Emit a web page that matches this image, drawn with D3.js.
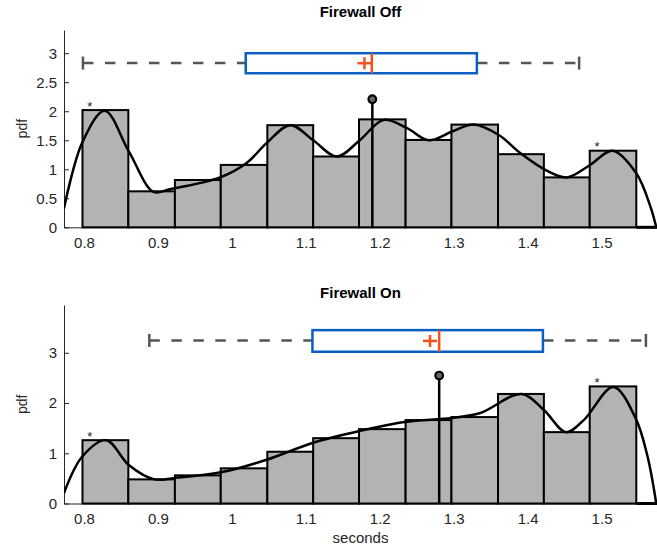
<!DOCTYPE html>
<html>
<head>
<meta charset="utf-8">
<script src="https://cdn.jsdelivr.net/npm/d3@7"></script>
<style>
  body { margin: 0; background: #fff; }
  text { font-family: "Liberation Sans", Arial, sans-serif; fill: #262626; }
</style>
</head>
<body>
<div id="chart"></div>
<script>
// tick labels
const xTicks = [0.8, 0.9, 1, 1.1, 1.2, 1.3, 1.4, 1.5];
const offYTicks = [0, 0.5, 1, 1.5, 2, 2.5, 3];
const onYTicks = [0, 1, 2, 3];

// histogram bin edges (seconds) and densities
const binEdges = [0.798, 0.860, 0.923, 0.985, 1.048, 1.110, 1.172, 1.235, 1.297, 1.360, 1.422, 1.484, 1.547];
const offDensity = [2.02, 0.62, 0.815, 1.075, 1.76, 1.22, 1.86, 1.505, 1.77, 1.26, 0.86, 1.32];
const onDensity = [1.26, 0.48, 0.56, 0.70, 1.03, 1.30, 1.48, 1.66, 1.72, 2.18, 1.42, 2.33];

// smoothed density curves, [seconds, pdf]
const offKde = [[0.773, 0.33], [0.798, 1.47], [0.828, 2.01], [0.861, 1.30], [0.894, 0.61], [0.916, 0.655],
  [0.984, 0.86], [1.020, 1.11], [1.047, 1.45], [1.079, 1.76], [1.110, 1.50], [1.142, 1.22], [1.173, 1.50],
  [1.205, 1.85], [1.237, 1.71], [1.266, 1.50], [1.298, 1.65], [1.327, 1.77], [1.361, 1.59], [1.390, 1.28],
  [1.424, 0.99], [1.453, 0.86], [1.484, 1.07], [1.515, 1.32], [1.547, 0.93], [1.566, 0.36], [1.574, 0]];
const onKde = [[0.773, 0.21], [0.798, 0.94], [0.830, 1.26], [0.861, 0.76], [0.895, 0.48], [0.923, 0.51],
  [0.985, 0.62], [1.047, 0.87], [1.110, 1.21], [1.172, 1.44], [1.234, 1.62], [1.297, 1.70], [1.336, 1.80],
  [1.392, 2.18], [1.422, 1.86], [1.452, 1.42], [1.476, 1.66], [1.516, 2.32], [1.546, 1.70], [1.562, 0.95], [1.574, 0]];

// box plot: [lower whisker, q1, median, q3, upper whisker]
const offBox = [0.7986, 1.0188, 1.1893, 1.3314, 1.4697];
const onBox = [0.8884, 1.109, 1.2804, 1.4207, 1.560];
const offMean = 1.1793;
const onMean = 1.268;

// stem marker [seconds, pdf]
const offStem = [1.190, 2.207];
const onStem = [1.2804, 2.546];

// peak asterisks [seconds, pdf]
const offStars = [[0.808, 2.14], [1.494, 1.45]];
const onStars = [[0.808, 1.39], [1.494, 2.47]];

var w = 657, h = 546;

var svg = d3.select("#chart").append("svg")
  .attr("width", w)
  .attr("height", h);

var x = d3.scaleLinear().domain([0.773, 1.575]).range([64, 657]);

const panels = [
  { title: "Firewall Off", top: 30, bottom: 227.3, ymax: 3.4, yTicks: offYTicks, density: offDensity,
    kde: offKde, box: offBox, mean: offMean, stem: offStem, stars: offStars, boxY: [2.655, 3.0], whiskY: 2.83, titleY: 17 },
  { title: "Firewall On", top: 305, bottom: 503.5, ymax: 3.95, yTicks: onYTicks, density: onDensity,
    kde: onKde, box: onBox, mean: onMean, stem: onStem, stars: onStars, boxY: [3.02, 3.45], whiskY: 3.245, titleY: 298 }
];

panels.forEach(function(p, pi) {
  var y = d3.scaleLinear().domain([0, p.ymax]).range([p.bottom, p.top]);
  var g = svg.append("g");

  svg.append("defs").append("clipPath")
    .attr("id", "clip" + pi)
    .append("rect")
    .attr("x", 64).attr("y", p.top)
    .attr("width", 657 - 64).attr("height", p.bottom - p.top + 2);

  // x axis (ticks sit under the bars)
  var xAxis = g.append("g")
    .attr("transform", "translate(0," + p.bottom + ")")
    .call(d3.axisBottom(x).tickValues(xTicks).tickFormat(d3.format("~g"))
      .tickSize(-5).tickSizeOuter(0).tickPadding(10));
  xAxis.select(".domain").attr("stroke", "#262626");
  xAxis.selectAll(".tick line").attr("stroke", "#262626");
  xAxis.selectAll("text").style("font-size", "15px");

  var yAxis = g.append("g")
    .attr("transform", "translate(64,0)")
    .call(d3.axisLeft(y).tickValues(p.yTicks).tickFormat(d3.format("~g"))
      .tickSize(-5).tickSizeOuter(0).tickPadding(7));
  yAxis.select(".domain").attr("stroke", "#262626");
  yAxis.selectAll(".tick line").attr("stroke", "#262626");
  yAxis.selectAll("text").style("font-size", "15px");

  // histogram
  g.selectAll(".bar")
    .data(p.density)
    .enter().append("rect")
    .attr("class", "bar")
    .attr("x", function(d, i) { return x(binEdges[i]); })
    .attr("width", function(d, i) { return x(binEdges[i + 1]) - x(binEdges[i]); })
    .attr("y", function(d) { return y(d); })
    .attr("height", function(d) { return y(0) - y(d); })
    .style("fill", "#b3b3b3")
    .style("stroke", "#000")
    .style("stroke-width", 2);

  // baseline after the last bin
  g.append("line")
    .attr("x1", x(binEdges[binEdges.length - 1])).attr("x2", x.range()[1])
    .attr("y1", y(0)).attr("y2", y(0))
    .style("stroke", "#000").style("stroke-width", 3);

  // stem marker
  g.append("line")
    .attr("x1", x(p.stem[0])).attr("x2", x(p.stem[0]))
    .attr("y1", y(0)).attr("y2", y(p.stem[1]))
    .style("stroke", "#000").style("stroke-width", 2.5);
  g.append("circle")
    .attr("cx", x(p.stem[0])).attr("cy", y(p.stem[1]))
    .attr("r", 3.8)
    .style("fill", "#666").style("stroke", "#000").style("stroke-width", 2.2);

  // density curve
  var line = d3.line()
    .x(function(d) { return x(d[0]); })
    .y(function(d) { return y(d[1]); })
    .curve(d3.curveCatmullRom.alpha(0.5));
  g.append("path")
    .datum(p.kde)
    .attr("clip-path", "url(#clip" + pi + ")")
    .attr("d", line)
    .style("fill", "none")
    .style("stroke", "#000")
    .style("stroke-width", 2.5);

  // asterisks
  g.selectAll(".star")
    .data(p.stars)
    .enter().append("text")
    .attr("x", function(d) { return x(d[0]); })
    .attr("y", function(d) { return y(d[1]); })
    .attr("text-anchor", "middle")
    .attr("dy", "0.6em")
    .style("font-size", "13px")
    .style("fill", "#222")
    .text("*");

  // box plot
  var b = p.box;
  var wy = y(p.whiskY);
  g.append("line")
    .attr("x1", x(b[0])).attr("x2", x(b[1]))
    .attr("y1", wy).attr("y2", wy)
    .style("stroke", "#555").style("stroke-width", 2.5)
    .style("stroke-dasharray", "10.5,11.5");
  g.append("line")
    .attr("x1", x(b[3])).attr("x2", x(b[4]))
    .attr("y1", wy).attr("y2", wy)
    .style("stroke", "#555").style("stroke-width", 2.5)
    .style("stroke-dasharray", "10.5,11.5");
  [b[0], b[4]].forEach(function(v) {
    g.append("line")
      .attr("x1", x(v)).attr("x2", x(v))
      .attr("y1", wy - 6.5).attr("y2", wy + 6.5)
      .style("stroke", "#555").style("stroke-width", 2.5);
  });
  g.append("rect")
    .attr("x", x(b[1])).attr("y", y(p.boxY[1]))
    .attr("width", x(b[3]) - x(b[1]))
    .attr("height", y(p.boxY[0]) - y(p.boxY[1]))
    .style("fill", "#fff").style("stroke", "#0a5fc4").style("stroke-width", 2.5);
  g.append("line")
    .attr("x1", x(b[2])).attr("x2", x(b[2]))
    .attr("y1", y(p.boxY[1])).attr("y2", y(p.boxY[0]))
    .style("stroke", "#f4511e").style("stroke-width", 2.5);
  var mx = x(p.mean), my = y((p.boxY[0] + p.boxY[1]) / 2);
  g.append("line")
    .attr("x1", mx - 7).attr("x2", mx + 7)
    .attr("y1", my).attr("y2", my)
    .style("stroke", "#f4511e").style("stroke-width", 2.5);
  g.append("line")
    .attr("x1", mx).attr("x2", mx)
    .attr("y1", my - 6).attr("y2", my + 6)
    .style("stroke", "#f4511e").style("stroke-width", 2.5);

  // title and y label
  svg.append("text")
    .attr("x", (64 + 657) / 2)
    .attr("y", p.titleY)
    .attr("text-anchor", "middle")
    .style("font-size", "15px")
    .style("font-weight", "bold")
    .style("fill", "#000")
    .text(p.title);

  svg.append("text")
    .attr("transform", "translate(27," + ((p.top + p.bottom) / 2) + ") rotate(-90)")
    .attr("text-anchor", "middle")
    .style("font-size", "14px")
    .text("pdf");
});

svg.append("text")
  .attr("x", (64 + 657) / 2)
  .attr("y", 543)
  .attr("text-anchor", "middle")
  .style("font-size", "15px")
  .text("seconds");
</script>
</body>
</html>
